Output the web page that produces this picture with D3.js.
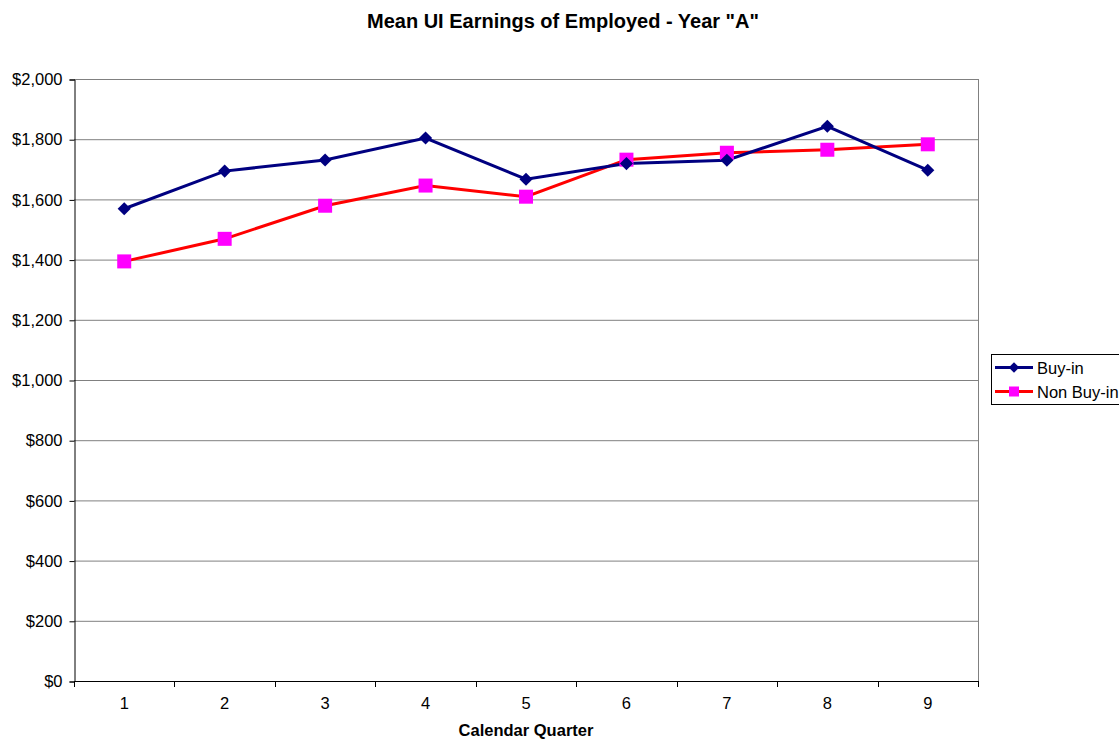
<!DOCTYPE html>
<html><head><meta charset="utf-8">
<script src="https://cdn.jsdelivr.net/npm/d3@7"></script>
<style>body{margin:0;background:#fff}svg{font-family:"Liberation Sans",Arial,sans-serif}</style>
</head><body><svg id="c" width="1119" height="742"></svg>
<script>
const categories = ["1","2","3","4","5","6","7","8","9"];
const buyIn = [1569,1694,1731,1804,1667,1719,1730,1843,1697];
const nonBuyIn = [1394,1469,1579,1646,1609,1732,1755,1765,1783];
const yTicks = [0,200,400,600,800,1000,1200,1400,1600,1800,2000];
const seriesNames = ["Buy-in","Non Buy-in"];

const FF = "Liberation Sans, Arial, sans-serif";
const svg = d3.select("#c");
const L=74,R=978,T=79,B=681;
const x = d3.scaleBand().domain(categories).range([L,R]);
const y = d3.scaleLinear().domain([0,2000]).range([B,T]);

svg.append("text").attr("x",563).attr("y",28).attr("text-anchor","middle")
  .attr("font-weight","bold").attr("font-size",20).text('Mean UI Earnings of Employed - Year "A"');

// gridlines
svg.append("g").selectAll("line").data(yTicks.filter(d=>d>0)).join("line")
  .attr("x1",L).attr("x2",R).attr("y1",d=>y(d)+0.5).attr("y2",d=>y(d)+0.5)
  .attr("stroke","#808080").attr("stroke-width",1);
svg.append("line").attr("x1",R+0.5).attr("x2",R+0.5).attr("y1",T).attr("y2",B).attr("stroke","#808080");

// y axis
const ya = svg.append("g").attr("transform",`translate(${L+0.5},0.5)`)
  .call(d3.axisLeft(y).tickValues(yTicks).tickSize(5).tickPadding(7).tickFormat(d=>"$"+d3.format(",")(d)));
ya.select(".domain").attr("stroke","#000");
ya.selectAll(".tick line").attr("stroke","#000");
ya.selectAll("text").attr("font-size",16.5).attr("fill","#000").attr("font-family",FF);

// x axis
const xa = svg.append("g").attr("transform",`translate(0,${B+0.5})`)
  .call(d3.axisBottom(x).tickSize(0).tickPadding(16));
xa.select(".domain").attr("stroke","#000").attr("d",`M${L},0H${R}`);
xa.selectAll("text").attr("font-size",16.5).attr("fill","#000").attr("font-family",FF);
const bounds = categories.map(c=>x(c)).concat([R]);
svg.append("g").selectAll("line").data(bounds).join("line")
  .attr("x1",d=>Math.round(d)+0.5).attr("x2",d=>Math.round(d)+0.5).attr("y1",B).attr("y2",B+6).attr("stroke","#000");

svg.append("text").attr("x",526).attr("y",736).attr("text-anchor","middle")
  .attr("font-weight","bold").attr("font-size",16.5).text("Calendar Quarter");

const cx = c=>x(c)+x.bandwidth()/2;
const line = d3.line().x((d,i)=>cx(categories[i])).y(d=>y(d));

svg.append("path").datum(nonBuyIn).attr("d",line).attr("fill","none").attr("stroke","#ff0000").attr("stroke-width",3);
svg.append("path").datum(buyIn).attr("d",line).attr("fill","none").attr("stroke","#000080").attr("stroke-width",3);

svg.append("g").selectAll("rect").data(nonBuyIn).join("rect")
  .attr("x",(d,i)=>cx(categories[i])-7).attr("y",d=>y(d)-7).attr("width",14).attr("height",14).attr("fill","#ff00ff");
const diamond = d3.symbol().type(d3.symbolDiamond2).size(110);
svg.append("g").selectAll("path").data(buyIn).join("path")
  .attr("transform",(d,i)=>`translate(${cx(categories[i])},${y(d)})`).attr("d",diamond).attr("fill","#000080");

// legend
const lg = svg.append("g");
lg.append("rect").attr("x",991.5).attr("y",354.5).attr("width",140).attr("height",50).attr("fill","#fff").attr("stroke","#000");
const colors=["#000080","#ff0000"];
seriesNames.forEach((n,i)=>{
  const yy = 367.5 + i*24;
  lg.append("line").attr("x1",995).attr("x2",1033).attr("y1",yy).attr("y2",yy).attr("stroke",colors[i]).attr("stroke-width",3);
  if(i===0) lg.append("path").attr("transform",`translate(1014,${yy})`).attr("d",d3.symbol().type(d3.symbolDiamond2).size(70)).attr("fill","#000080");
  else lg.append("rect").attr("x",1009).attr("y",yy-5).attr("width",10).attr("height",10).attr("fill","#ff00ff");
  lg.append("text").attr("x",1037).attr("y",yy+6).attr("font-size",16.5).attr("font-family",FF).text(n);
});
</script></body></html>
